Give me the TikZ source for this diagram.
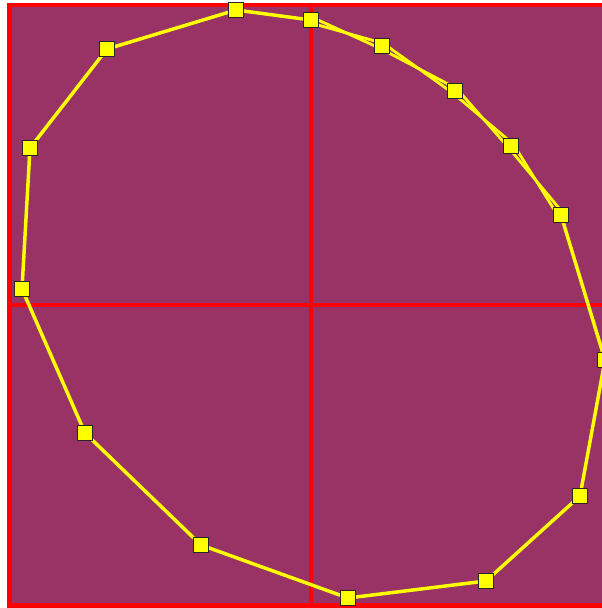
\documentclass[tikz,border=0pt]{standalone}
\usetikzlibrary{calc}
\definecolor{bgpurple}{RGB}{153,51,102}
\definecolor{framered}{RGB}{255,0,0}
\definecolor{polyyellow}{RGB}{255,255,0}
\tikzset{
  marker/.style={draw=black!85, fill=polyyellow, line width=0.8pt, minimum size=11.2pt, inner sep=0pt, rectangle},
  edge/.style={draw=polyyellow, line width=2.6pt, line join=round},
  thinedge/.style={draw=polyyellow, line width=2.1pt},
  redline/.style={draw=framered, line width=3.6pt}
}
\begin{document}
\begin{tikzpicture}[x=0.75pt,y=-0.75pt]
\useasboundingbox (0,0) rectangle (602,608);
\clip (0,0) rectangle (602,608);
\fill[white] (0,0) rectangle (602,608);
% frame
\filldraw[fill=bgpurple, redline] (9.5,5) rectangle (620,605.5);
\draw[redline] (311,5) -- (311,620);
\draw[redline] (9.5,305) -- (620,305);
% points
\coordinate (c1) at (236,10);
\coordinate (c2) at (311,20);
\coordinate (c3) at (382,46);
\coordinate (c4) at (455,91);
\coordinate (c5) at (511,146);
\coordinate (c6) at (561,215);
\coordinate (c7) at (605,360);
\coordinate (c8) at (580,496);
\coordinate (c9) at (486,581);
\coordinate (c10) at (348,598);
\coordinate (c11) at (201,545);
\coordinate (c12) at (85,433);
\coordinate (c13) at (22,289);
\coordinate (c14) at (30,148);
\coordinate (c15) at (107,49);
% polygon
\draw[edge] (c6) -- (c7) -- (c8) -- (c9) -- (c10) -- (c11) -- (c12) -- (c13) -- (c14) -- (c15) -- (c1) -- (c2);
% doubled, crossing segments
\foreach \a/\b in {c2/c3, c3/c4, c4/c5, c5/c6} {
  \draw[thinedge] ($(\a)!2.2pt!90:(\b)$) -- ($(\b)!2.2pt!90:(\a)$);
  \draw[thinedge] ($(\a)!2.2pt!-90:(\b)$) -- ($(\b)!2.2pt!-90:(\a)$);
}
% markers
\foreach \i in {1,...,15} {
  \node[marker] (m\i) at (c\i) {};
}
\end{tikzpicture}
\end{document}
